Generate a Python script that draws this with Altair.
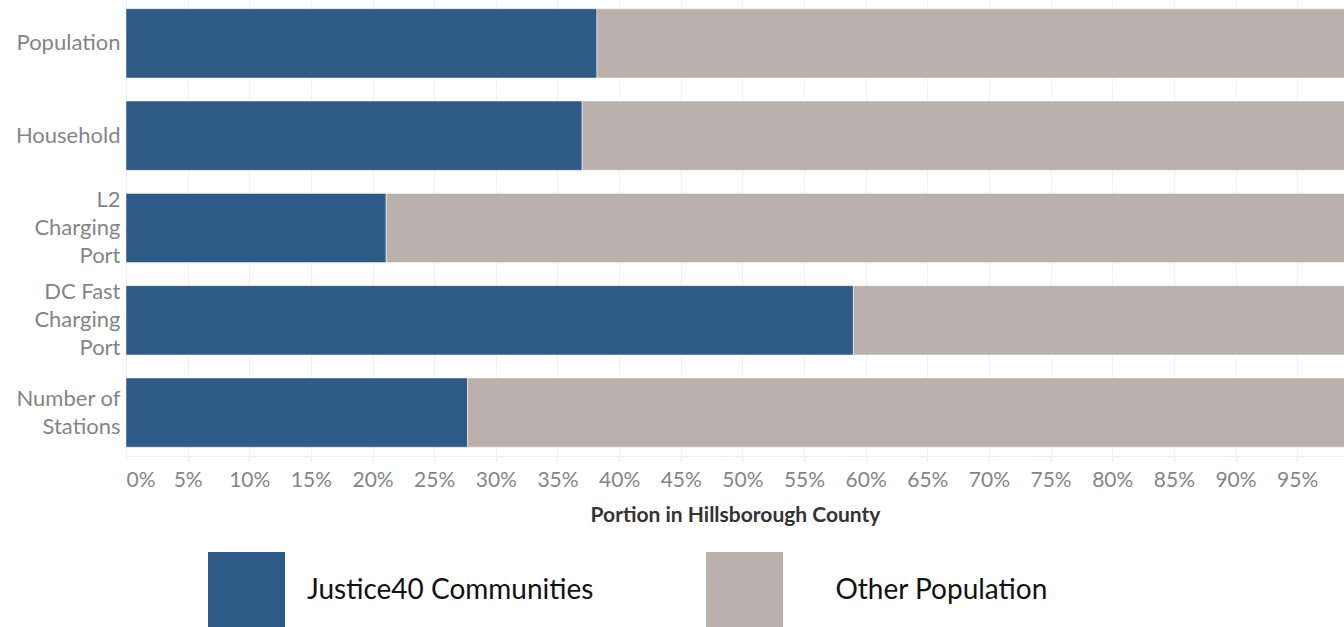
import altair as alt
import pandas as pd

categories = ["Population", "Household", "L2|Charging|Port", "DC Fast|Charging|Port", "Number of|Stations"]
justice40 = [0.382, 0.370, 0.211, 0.590, 0.277]
other = [round(1 - v, 3) for v in justice40]
groups = ["Justice40 Communities", "Other Population"]
colors = ["#2d5a87", "#bab0ac"]

rows = []
for c, j, o in zip(categories, justice40, other):
    rows.append({"category": c, "group": groups[0], "value": j, "order": 0})
    rows.append({"category": c, "group": groups[1], "value": o, "order": 1})
df = pd.DataFrame(rows)

FONT = "Lato"

chart = alt.Chart(df).mark_bar(stroke="#ffffff", strokeWidth=0.8, strokeOpacity=0.6, clip=True).encode(
    y=alt.Y("category:N", sort=categories,
            scale=alt.Scale(paddingInner=0.25, paddingOuter=0.095),
            axis=alt.Axis(title=None, labelExpr="split(datum.value, '|')",
                          labelOffset={"expr": "-(length(split(datum.value, '|')) - 1) * 14"},
                          labelFont=FONT, labelFontSize=22, labelColor="#858585",
                          labelLineHeight=28, labelPadding=6, ticks=False, domain=False,
                          grid=False, labelLimit=200)),
    x=alt.X("value:Q", stack="zero",
            scale=alt.Scale(domain=[0, 0.988], nice=False, zero=True),
            axis=alt.Axis(title="Portion in Hillsborough County", format=".0%",
                          values=[i / 100 for i in range(0, 100, 5)],
                          labelFont=FONT, labelFontSize=21, labelColor="#858585",
                          labelFlush=True, labelPadding=7, labelOverlap=False,
                          tickColor="#eeeeee", tickSize=6, domainColor="#eeeeee",
                          gridColor="#f0f0f0", grid=True,
                          titleFont=FONT, titleFontSize=21, titleFontWeight="bold",
                          titleColor="#333333", titlePadding=14)),
    color=alt.Color("group:N", scale=alt.Scale(domain=groups, range=colors),
                    legend=alt.Legend(title=None, orient="none", direction="horizontal",
                                      legendX=82, legendY=552,
                                      symbolType="square", symbolSize=5929,
                                      symbolStrokeWidth=0, symbolOpacity=1,
                                      labelFont=FONT, labelFontSize=28, labelColor="#111111",
                                      labelOffset=22, columnPadding=112, padding=0,
                                      labelLimit=400,
                                      labelExpr="datum.label == 'Other Population' ? '\u200b\u00a0\u00a0\u00a0\u00a0\u200aOther Population' : datum.label")),
    order=alt.Order("order:Q"),
).properties(
    width=1218, height=456,
    autosize=alt.AutoSizeParams(type="none"),
    padding={"left": 126, "top": 0, "right": 0, "bottom": 171},
).configure_view(stroke=None)

chart.save("out.html", embed_options={"renderer": "svg", "actions": False})
